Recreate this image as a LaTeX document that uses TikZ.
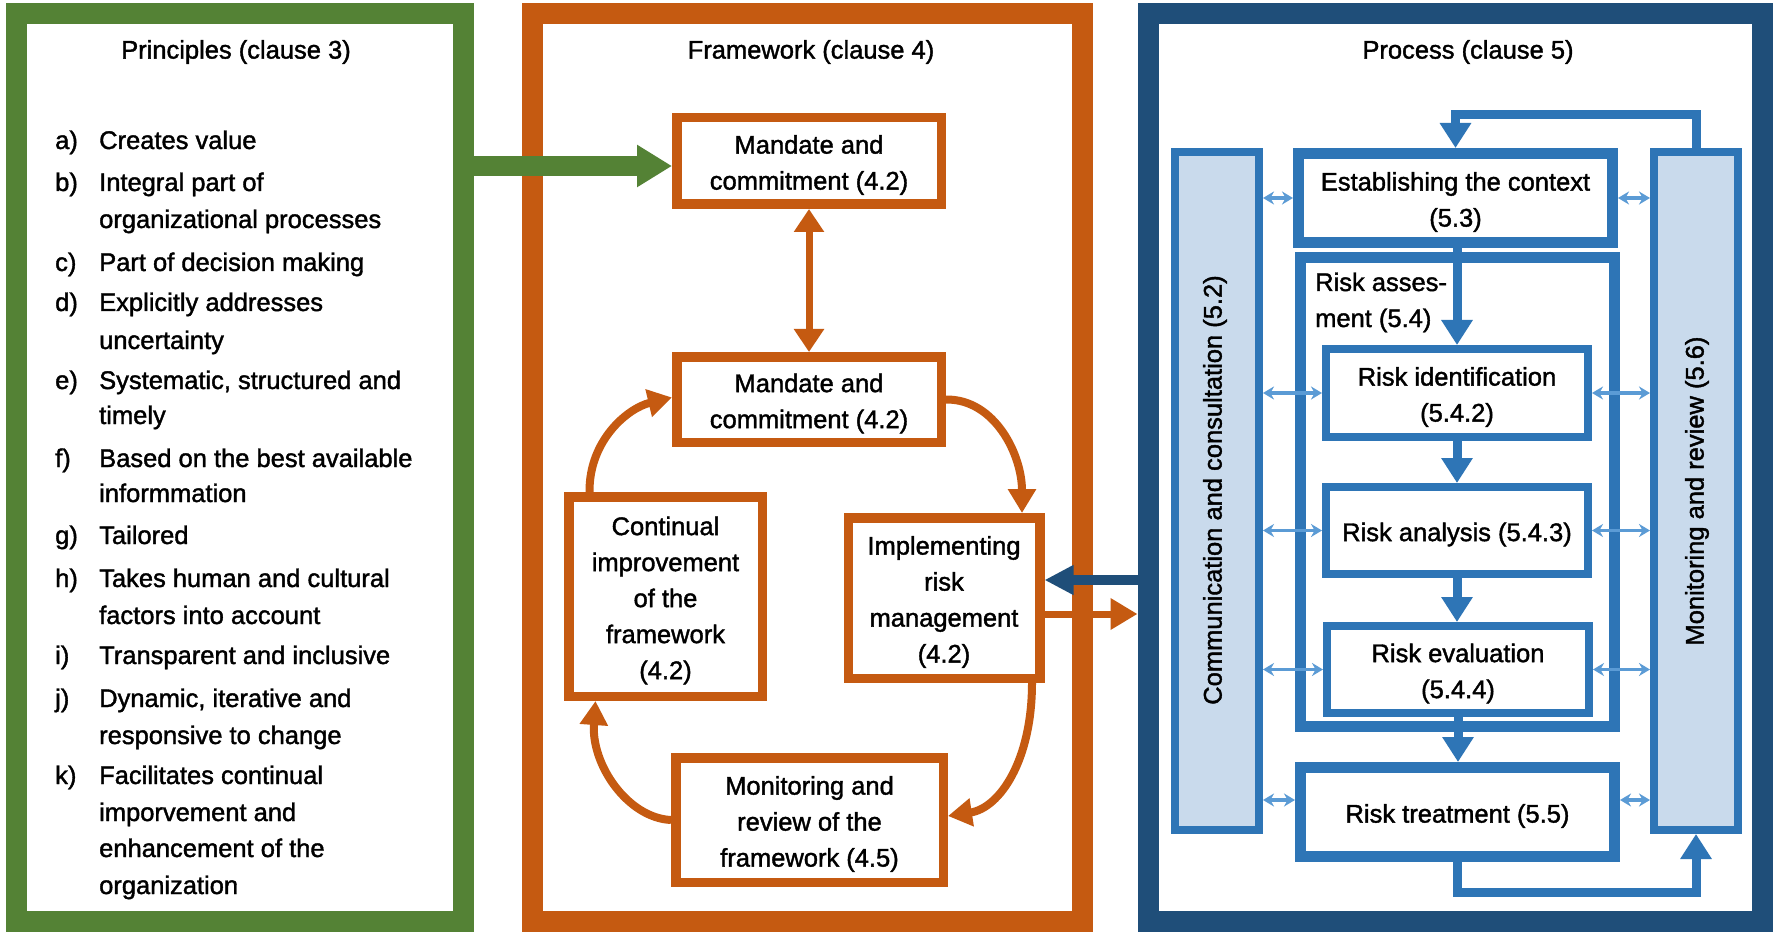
\documentclass[tikz,border=0pt]{standalone}
\usepackage{fontspec}
\setmainfont{Liberation Sans}[BoldFont=Liberation Sans,BoldFeatures={FakeBold=1.5}]
\usetikzlibrary{arrows.meta}
\definecolor{pgreen}{HTML}{548235}
\definecolor{porange}{HTML}{C55A11}
\definecolor{pnavy}{HTML}{1F4E79}
\definecolor{pblue}{HTML}{2E75B6}
\definecolor{plight}{HTML}{5B9BD5}
\definecolor{pfill}{HTML}{C9DAEC}
\tikzset{
  frame/.style={draw, line width=21pt, inner sep=0pt},
  title/.style={inner sep=0pt},
  lab/.style={anchor=base west, inner sep=0pt},
  btxt/.style={align=center, inner sep=0pt, yshift=-4pt},
  obox/.style={draw=porange, line width=9.5pt, inner sep=0pt},
  pbox/.style={draw=pblue, inner sep=0pt},
  bar/.style={draw=pblue, fill=pfill, line width=8pt, inner sep=0pt},
  ocurve/.style={draw=porange, line width=8pt, -{Triangle[length=24pt,width=27pt]}},
  parrow/.style={draw=pblue, line width=9pt, line join=miter, -{Triangle[length=25pt,width=30pt]}},
  lar/.style={draw=plight, line width=3.5pt, {Stealth[length=11pt,width=13pt]}-{Stealth[length=11pt,width=13pt]}}
}
\begin{document}
\begin{tikzpicture}[x=1pt,y=-1pt,font=\fontsize{25.5}{36}\selectfont\bfseries]
\fill[white] (0,0) rectangle (1775,933);
\useasboundingbox (0,0) rectangle (1775,933);

% the three clause frames
\node[frame,draw=pgreen,minimum width=446.5pt,minimum height=908pt] (princ) at (239.75,467.5) {};
\node[frame,draw=porange,minimum width=550pt,minimum height=908pt] (frmw) at (807.5,467.5) {};
\node[frame,draw=pnavy,minimum width=614.5pt,minimum height=908pt] (proc) at (1455.25,467.5) {};

\node[title] (tprinc) at (236,52) {Principles (clause 3)};
\node[title] (tfrmw) at (811,52) {Framework (clause 4)};
\node[title] (tproc) at (1468,52) {Process (clause 5)};

% principles list
\node[lab] (la) at (55,149) {a)};  \node[lab] (ta1) at (99,149) {Creates value};
\node[lab] (lb) at (55,191) {b)};  \node[lab] (tb1) at (99,191) {Integral part of};
                                   \node[lab] (tb2) at (99,228) {organizational processes};
\node[lab] (lc) at (55,271) {c)};  \node[lab] (tc1) at (99,271) {Part of decision making};
\node[lab] (ld) at (55,311) {d)};  \node[lab] (td1) at (99,311) {Explicitly addresses};
                                   \node[lab] (td2) at (99,349) {uncertainty};
\node[lab] (le) at (55,389) {e)};  \node[lab] (te1) at (99,389) {Systematic, structured and};
                                   \node[lab] (te2) at (99,424) {timely};
\node[lab] (lf) at (55,467) {f)};  \node[lab] (tf1) at (99,467) {Based on the best available};
                                   \node[lab] (tf2) at (99,502) {informmation};
\node[lab] (lg) at (55,544) {g)};  \node[lab] (tg1) at (99,544) {Tailored};
\node[lab] (lh) at (55,587) {h)};  \node[lab] (th1) at (99,587) {Takes human and cultural};
                                   \node[lab] (th2) at (99,624) {factors into account};
\node[lab] (li) at (55,664) {i)};  \node[lab] (ti1) at (99,664) {Transparent and inclusive};
\node[lab] (lj) at (55,707) {j)};  \node[lab] (tj1) at (99,707) {Dynamic, iterative and};
                                   \node[lab] (tj2) at (99,744) {responsive to change};
\node[lab] (lk) at (55,784) {k)};  \node[lab] (tk1) at (99,784) {Facilitates continual};
                                   \node[lab] (tk2) at (99,821) {imporvement and};
                                   \node[lab] (tk3) at (99,857) {enhancement of the};
                                   \node[lab] (tk4) at (99,894) {organization};

% framework boxes
\node[obox,minimum width=264.5pt,minimum height=86.5pt] (mand1) at (809,161) {};
\node[btxt] (mand1t) at (mand1) {Mandate and\\commitment (4.2)};
\node[obox,minimum width=264.5pt,minimum height=85.5pt] (mand2) at (809,399.5) {};
\node[btxt] (mand2t) at (mand2) {Mandate and\\commitment (4.2)};
\node[obox,minimum width=193.5pt,minimum height=199.5pt] (cont) at (665.5,596.5) {};
\node[btxt] (contt) at (cont) {Continual\\improvement\\of the\\framework\\(4.2)};
\node[obox,minimum width=191.5pt,minimum height=160.5pt] (impl) at (944,598) {};
\node[btxt] (implt) at (impl) {Implementing\\risk\\management\\(4.2)};
\node[obox,minimum width=267.5pt,minimum height=124.5pt] (fmon) at (809.5,820) {};
\node[btxt] (fmont) at (fmon) {Monitoring and\\review of the\\framework (4.5)};

% framework connectors
\draw[porange,line width=7pt,{Triangle[length=23pt,width=29pt]}-{Triangle[length=23pt,width=29pt]}] (mand1.south) -- (mand2.north);
\draw[ocurve] (mand2.east) .. controls (995,399) and (1022,455) .. ([xshift=78pt]impl.north);
\draw[ocurve] ([xshift=88pt]impl.south) .. controls (1032,760) and (1000,808) .. ([yshift=4pt]fmon.east);
\draw[ocurve] (fmon.west) .. controls (628,818) and (591,765) .. ([xshift=-70pt]cont.south);
\draw[ocurve] ([xshift=-76pt]cont.north) .. controls (589,440) and (628,408) .. ([yshift=2pt]mand2.west);

% process side bars
\node[bar,minimum width=84pt,minimum height=678pt] (combar) at (1217,491) {};
\node[bar,minimum width=84pt,minimum height=678pt] (revbar) at (1696,491) {};
\node[rotate=90,inner sep=0pt] (comtext) at (1215,490) {Communication and consultation (5.2)};
\node[rotate=90,inner sep=0pt] (revtext) at (1697,491) {Monitoring and review (5.6)};

% process boxes
\node[pbox,line width=11pt,minimum width=314pt,minimum height=89pt] (est) at (1455.5,198) {};
\node[btxt] (estt) at (est) {Establishing the context\\(5.3)};
\node[pbox,line width=11pt,minimum width=314pt,minimum height=469pt] (assess) at (1457.5,492) {};
\node[lab] (asst1) at (1315,291) {Risk asses-};
\node[lab] (asst2) at (1315,327) {ment (5.4)};
\node[pbox,line width=8pt,minimum width=262pt,minimum height=88pt] (rid) at (1457,393) {};
\node[btxt] (ridt) at (rid) {Risk identification\\(5.4.2)};
\node[pbox,line width=8pt,minimum width=262pt,minimum height=87pt] (ran) at (1457,530.5) {};
\node[btxt] (rant) at (ran) {Risk analysis (5.4.3)};
\node[pbox,line width=8pt,minimum width=262pt,minimum height=87pt] (rev) at (1458,669.5) {};
\node[btxt] (revt) at (rev) {Risk evaluation\\(5.4.4)};
\node[pbox,line width=11pt,minimum width=314pt,minimum height=89pt] (treat) at (1457.5,812) {};
\node[btxt] (treatt) at (treat) {Risk treatment (5.5)};

% process flow
\draw[parrow] (revbar.north) -- ++(0,-33) -| (est.north);
\draw[parrow] (rid.north |- est.south) -- (rid.north);
\draw[parrow] (rid.south) -- (ran.north);
\draw[parrow] (ran.south) -- (ran.south |- rev.north);
\draw[parrow] (rev.south) -- (rev.south |- treat.north);
\draw[parrow] (treat.south) -- ++(0,30) -| (revbar.south);

% communication / monitoring links
\coordinate (tl) at ([yshift=12pt]treat.west);
\coordinate (tr) at ([yshift=12pt]treat.east);
\draw[lar] (combar.east |- est.west) -- (est.west);
\draw[lar] (est.east) -- (revbar.west |- est.east);
\draw[lar] (combar.east |- rid.west) -- (rid.west);
\draw[lar] (rid.east) -- (revbar.west |- rid.east);
\draw[lar] (combar.east |- ran.west) -- (ran.west);
\draw[lar] (ran.east) -- (revbar.west |- ran.east);
\draw[lar] (combar.east |- rev.west) -- (rev.west);
\draw[lar] (rev.east) -- (revbar.west |- rev.east);
\draw[lar] (combar.east |- tl) -- (tl);
\draw[lar] (tr) -- (revbar.west |- tr);

% links between the clauses
\coordinate (gy) at ([yshift=-5pt]mand1.west);
\draw[pgreen,line width=20pt,-{Triangle[length=35pt,width=40pt]}] (gy -| princ.east) -- (gy);
\coordinate (din) at ([yshift=18pt]impl.east);
\draw[pnavy,line width=10pt,-{Triangle[length=29pt,width=28pt]}] (din -| proc.west) -- (din);
\coordinate (dout) at ([yshift=-16pt]impl.east);
\draw[porange,line width=7pt,-{Triangle[length=27pt,width=30pt]}] (dout) -- (dout -| proc.west);
\end{tikzpicture}
\end{document}
